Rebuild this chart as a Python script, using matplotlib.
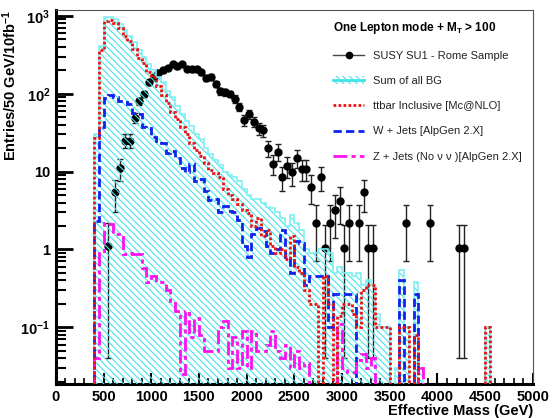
import numpy as np
import matplotlib
matplotlib.use("Agg")
import matplotlib.pyplot as plt
from matplotlib.lines import Line2D
from matplotlib.patches import Patch
from matplotlib.ticker import FixedLocator, MultipleLocator, FixedFormatter

plt.rcParams["font.family"] = ["Liberation Sans", "DejaVu Sans"]
plt.rcParams["mathtext.fontset"] = "custom"
plt.rcParams["mathtext.rm"] = "Liberation Sans:bold"
plt.rcParams["mathtext.it"] = "Liberation Sans:bold"
plt.rcParams["mathtext.bf"] = "Liberation Sans:bold"
plt.rcParams["hatch.linewidth"] = 0.8

# 50 GeV bins from 400 to 4600 GeV
edges = np.arange(400, 4650, 50)

ttbar = [27, 370, 860, 880, 800, 690, 560, 470, 380, 290,
         250, 190, 165, 125, 95, 75, 58, 47, 37, 30,
         23, 19, 16, 13, 10.5, 9.5, 8.5, 6, 5, 4.5,
         3.8, 3.2, 2.9, 2.0, 2.5, 1.5, 1.8, 1.1, 0.9, 1.0,
         0.75, 1.5, 0.6, 0.5, 0.3, 0.2, 0.2, 0, 0.45, 0.2,
         0, 0.14, 0.2, 0.2, 0.15, 0.1, 0.3, 0.35, 0.35, 0.1,
         0.1, 0.1, 0, 0, 0.1, 0.1, 0, 0.08, 0, 0,
         0, 0, 0, 0, 0, 0, 0, 0, 0, 0,
         0, 0, 0.1, 0]

wjets = [2.3, 37, 88, 95, 92, 80, 78, 74, 57, 55,
         37, 36, 28, 25, 23, 17.5, 18.5, 15, 11, 10,
         12.5, 7.6, 8, 5.7, 4.3, 4.5, 3.0, 3.6, 3.1, 3.0,
         2.4, 1.1, 0.8, 1.6, 1.9, 1.7, 1.1, 0.9, 1.0, 1.8,
         0.8, 0.5, 1.3, 1.2, 0.35, 0.45, 0.45, 0.45, 0.45, 0.1,
         0.27, 0.27, 0.27, 0.27, 0.27, 0, 0, 0, 0, 0,
         0, 0, 0, 0, 0.4, 0, 0, 0.27, 0, 0,
         0, 0, 0, 0, 0, 0, 0, 0, 0, 0,
         0, 0, 0, 0]

zjets = [0.04, 0.9, 2.2, 2.1, 1.6, 1.6, 0.88, 0.9, 0.88, 0.88,
         0.57, 0.38, 0.45, 0.38, 0.38, 0.3, 0.22, 0.16, 0.025, 0.16,
         0.075, 0.13, 0.08, 0.05, 0.05, 0.05, 0.1, 0.12, 0.03, 0.075,
         0.03, 0.09, 0.03, 0.09, 0.05, 0.05, 0.06, 0.09, 0.05, 0.04,
         0.06, 0.03, 0.05, 0.03, 0.035, 0, 0, 0, 0, 0,
         0, 0.11, 0.03, 0.027, 0.027, 0.038, 0.045, 0.03, 0.04, 0,
         0, 0, 0, 0, 0, 0, 0, 0, 0.03, 0,
         0, 0, 0, 0, 0, 0, 0, 0, 0, 0,
         0, 0, 0, 0]

total_bg = [30, 410, 960, 980, 900, 780, 650, 550, 460, 360,
            300, 240, 200, 165, 140, 110, 90, 70, 55, 45,
            38, 30, 26, 20, 17, 14, 12, 10, 9, 8.5,
            7.5, 6, 5, 4.5, 4.5, 4.0, 3.5, 3.4, 3, 2.5,
            2.0, 2.8, 2.2, 1.8, 1.0, 0.9, 0.9, 1.0, 1.0, 0.9,
            0.5, 0.6, 0.5, 0.5, 0.45, 0.5, 0.35, 0.4, 0.35, 0.15,
            0.1, 0.1, 0, 0.03, 0.55, 0.1, 0, 0.38, 0.03, 0,
            0, 0, 0, 0, 0, 0, 0, 0, 0, 0,
            0, 0, 0.1, 0]

# SUSY SU1 signal points
sig_x = [550, 625, 675, 725, 775, 825, 875, 925, 975, 1025,
         1075, 1125, 1175, 1225, 1275, 1325, 1375, 1425, 1475, 1525,
         1575, 1625, 1675, 1725, 1775, 1825, 1875, 1925, 1975, 2025,
         2075, 2125, 2175, 2225, 2275, 2325, 2375, 2425, 2475, 2525,
         2575, 2625, 2675, 2725, 2775, 2825, 2875, 2925, 2975, 3025,
         3075, 3175, 3225, 3275, 3325, 3675, 3925, 4225, 4275]
sig_y = [1.1, 5.4, 11, 25, 25, 49, 80, 100, 140, 165,
         185, 200, 215, 240, 225, 240, 210, 205, 205, 190,
         160, 165, 134, 107, 104, 100, 86, 68, 46, 55,
         44, 36, 34, 20, 12.7, 18, 8.6, 11.8, 9.8, 15,
         10.9, 10.9, 6.4, 2.2, 8.6, 1.05, 2.2, 3.2, 4.2, 1.05,
         2.2, 2.2, 5.4, 1.05, 1.05, 2.2, 2.2, 1.05, 1.05]
sig_err = [1.06, 2.4, 3.4, 5, 5, 7, 9, 10, 12, 13,
           14, 14, 15, 16, 15, 16, 15, 15, 15, 14,
           13, 13, 12, 11, 10, 10, 9.5, 8.5, 7, 7.6,
           6.8, 6.2, 6, 4.6, 3.6, 4.3, 3, 3.5, 3.2, 4,
           3.4, 3.4, 2.6, 1.5, 3, 1.01, 1.5, 1.8, 2.1, 1.01,
           1.5, 1.5, 2.4, 1.01, 1.01, 1.5, 1.5, 1.01, 1.01]

ymin, ymax = 0.0186, 1190
floor = 1e-3
hatch = "\\" * 5

def clip(v):
    v = np.asarray(v, dtype=float)
    return np.where(v > 0, v, floor)

fig = plt.figure(figsize=(5.58, 4.18), dpi=100)
ax = fig.add_axes([0.1, 0.081, 0.855, 0.895])

# signal points (under the hatch, like in the original)
ax.errorbar(sig_x, sig_y, yerr=sig_err, fmt="o", color="black", ms=5,
            ecolor="#222222", elinewidth=1, capsize=2.5, capthick=1, zorder=2)

# sum of all BG: hatched cyan
tb = clip(total_bg)
ax.fill_between(edges, floor, np.append(tb, tb[-1]), step="post",
                facecolor="none", edgecolor="#45e3ea", hatch=hatch,
                linewidth=0, zorder=3)
ax.stairs(tb, edges, baseline=floor, color="#7ff0f4", lw=1.2, zorder=3.5)

ax.stairs(clip(ttbar), edges, baseline=floor, color="#ee1111", lw=2,
          linestyle=(0, (1, 0.8)), zorder=5)
ax.stairs(clip(wjets), edges, baseline=floor, color="#1122ee", lw=2,
          linestyle=(0, (3, 1.5)), zorder=4)
ax.stairs(clip(zjets), edges, baseline=floor, color="#ff11ee", lw=2,
          linestyle=(0, (5, 1.5, 1.5, 1.5)), zorder=4)

ax.set_yscale("log")
ax.set_xlim(0, 5000)
ax.set_ylim(ymin, ymax)

ax.yaxis.set_major_locator(FixedLocator([0.1, 1, 10, 100, 1000]))
ax.yaxis.set_major_formatter(FixedFormatter(["$10^{-1}$", "1", "10", "$10^{2}$", "$10^{3}$"]))
ax.xaxis.set_major_locator(MultipleLocator(500))
ax.xaxis.set_minor_locator(MultipleLocator(100))

ax.tick_params(axis="y", which="major", direction="in", length=12, width=2, labelsize=10.5, pad=4)
ax.tick_params(axis="y", which="minor", direction="in", length=7, width=1.5)
ax.tick_params(axis="x", which="major", direction="in", length=8, width=1.5, labelsize=10.5, pad=4)
ax.tick_params(axis="x", which="minor", direction="in", length=4, width=1.2)
for lab in ax.get_xticklabels() + ax.get_yticklabels():
    lab.set_fontweight("bold")

ax.spines["left"].set_linewidth(2.2)
ax.spines["bottom"].set_linewidth(2.2)
for s in ("top", "right"):
    ax.spines[s].set_linewidth(0.8)
    ax.spines[s].set_color("#555555")

ax.set_ylabel("Entries/50 GeV/10fb$^{-1}$", fontsize=10.5, fontweight="bold", loc="top", labelpad=1)
ax.set_xlabel("Effective Mass (GeV)", fontsize=10.5, fontweight="bold", loc="right", labelpad=0)

handles = [
    Line2D([], [], color="#444444", lw=1, marker="o", ms=4.5, mfc="black", mec="black"),
    (Patch(facecolor="none", edgecolor="#45e3ea", hatch=hatch, lw=0),
     Line2D([], [], color="#45e3ea", lw=2)),
    Line2D([], [], color="#ee1111", lw=2, linestyle=(0, (1, 0.8))),
    Line2D([], [], color="#1122ee", lw=2, linestyle=(0, (3, 1.5))),
    Line2D([], [], color="#ff11ee", lw=2, linestyle=(0, (5, 1.5, 1.5, 1.5))),
]
labels = ["SUSY SU1 - Rome Sample", "Sum of all BG", "ttbar Inclusive [Mc@NLO]",
          "W + Jets [AlpGen 2.X]", "Z + Jets (No \u03bd \u03bd )[AlpGen 2.X]"]
leg = ax.legend(handles, labels, loc="upper left", bbox_to_anchor=(0.56, 1.0),
                frameon=False, fontsize=8, handlelength=2.8, labelspacing=1.36,
                title="One Lepton mode + M$_{T}$ > 100", alignment="left",
                title_fontproperties={"weight": "bold", "size": 8.5})
for t in leg.get_texts():
    t.set_color("#222222")
leg.set_zorder(10)

fig.savefig("out.png", dpi=100)
